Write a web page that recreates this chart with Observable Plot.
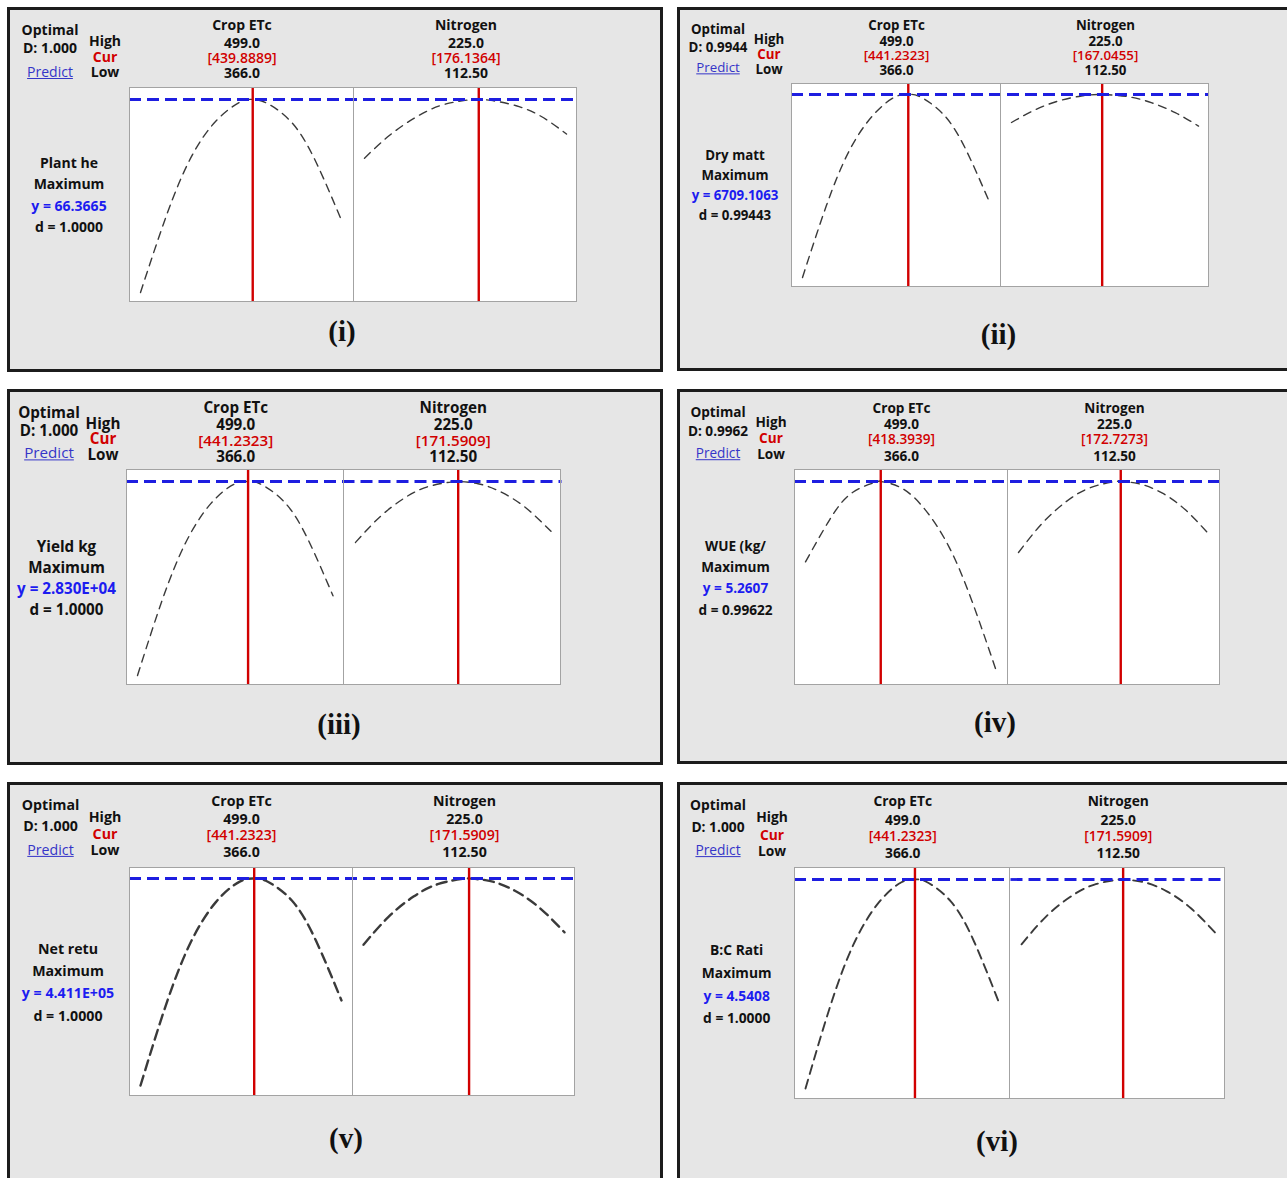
<!DOCTYPE html>
<html><head><meta charset="utf-8">
<script src="https://cdn.jsdelivr.net/npm/d3@7"></script>
<script src="https://cdn.jsdelivr.net/npm/@observablehq/plot@0.6"></script>
<style>
html,body{margin:0;padding:0;background:#fff;}
body{width:1287px;height:1178px;overflow:hidden;position:relative;font-family:"Open Sans","Noto Sans",sans-serif;color:#111;}
.panel{position:absolute;background:#e6e6e6;border:3px solid #1c1c1c;box-sizing:border-box;}
.t{position:absolute;white-space:nowrap;transform:translate(-50%,-50%);line-height:1;font-weight:700;}
.box{position:absolute;background:#fff;}
.boxframe{position:absolute;left:0;top:0;right:0;bottom:0;border:1px solid #a3a3a3;pointer-events:none;}
.divider{position:absolute;top:0;bottom:0;width:1px;background:#a3a3a3;}
.sub{position:absolute;top:0;}
.lab{position:absolute;transform:translate(-50%,-50%);font-family:"Liberation Serif","Times New Roman",serif;font-weight:700;line-height:1;white-space:nowrap;color:#111;}
</style></head><body>
<script>
// ---------------- data ----------------
const panelLabels = ["(i)", "(ii)", "(iii)", "(iv)", "(v)", "(vi)"];
const responseNames = ["Plant he", "Dry matt", "Yield kg", "WUE (kg/", "Net retu", "B:C Rati"];
const goalText = "Maximum";
const optimalD = ["1.000", "0.9944", "1.000", "0.9962", "1.000", "1.000"];
const predictedY = ["66.3665", "6709.1063", "2.830E+04", "5.2607", "4.411E+05", "4.5408"];
const optimumY = [66.3665, 6709.1063, 28300, 5.2607, 441100, 4.5408];
const desirability = ["1.0000", "0.99443", "1.0000", "0.99622", "1.0000", "1.0000"];
const factorNames = ["Crop ETc", "Nitrogen"];
const factorHigh = ["499.0", "225.0"];
const factorLow = ["366.0", "112.50"];
const etcRange = [366, 499];
const nitrogenRange = [112.5, 225];
const curETc = [439.8889, 441.2323, 441.2323, 418.3939, 441.2323, 441.2323];
const curNitrogen = [176.1364, 167.0455, 171.5909, 172.7273, 171.5909, 171.5909];
const yLow = [52, 4800, 19000, 3.9, 250000, 2.9];

const etcX = [
  [366, 383, 399, 416, 432, 439.9, 449, 466, 482, 499],
  [366, 383, 399, 416, 432, 441.2, 449, 466, 482, 499],
  [366, 383, 399, 416, 432, 441.2, 449, 466, 482, 499],
  [366, 383, 399, 416, 418.4, 432, 449, 466, 482, 499],
  [366, 383, 399, 416, 432, 441.2, 449, 466, 482, 499],
  [366, 383, 399, 416, 432, 441.2, 449, 466, 482, 499]
];
const etcY = [
  [52.0, 57.7, 62.0, 64.8, 66.2, 66.37, 66.1, 64.6, 61.6, 57.2],
  [4800, 5550, 6115, 6490, 6685, 6709, 6690, 6505, 6140, 5585],
  [19000, 22650, 25400, 27250, 28180, 28300, 28200, 27310, 25520, 22820],
  [4.685, 4.99, 5.184, 5.259, 5.261, 5.219, 5.063, 4.791, 4.402, 3.9],
  [250000, 325000, 381500, 419500, 438500, 441100, 439000, 421000, 384000, 328500],
  [2.9, 3.546, 4.031, 4.355, 4.519, 4.541, 4.523, 4.367, 4.05, 3.574]
];
const nitrogenX = [
  [112.5, 126.5, 140.5, 154.5, 168.5, 176.1, 183, 197, 211, 225],
  [112.5, 126.5, 140.5, 154.5, 167.0, 183, 197, 211, 225],
  [112.5, 126.5, 140.5, 154.5, 168.5, 171.6, 183, 197, 211, 225],
  [112.5, 126.5, 140.5, 154.5, 168.5, 172.7, 183, 197, 211, 225],
  [112.5, 126.5, 140.5, 154.5, 168.5, 171.6, 183, 197, 211, 225],
  [112.5, 126.5, 140.5, 154.5, 168.5, 171.6, 183, 197, 211, 225]
];
const nitrogenY = [
  [62.0, 63.7, 65.0, 65.9, 66.3, 66.37, 66.3, 65.9, 65.1, 63.8],
  [6417, 6548, 6640, 6694, 6709, 6685, 6622, 6520, 6380],
  [25380, 26600, 27500, 28060, 28290, 28300, 28195, 27765, 27005, 25910],
  [4.752, 4.962, 5.116, 5.215, 5.259, 5.261, 5.246, 5.179, 5.056, 4.878],
  [380000, 405700, 424400, 436100, 441000, 441100, 438900, 430000, 414100, 391400],
  [4.032, 4.246, 4.401, 4.499, 4.54, 4.541, 4.522, 4.448, 4.315, 4.125]
];

// ---------------- layout (positions / styles) ----------------
const layout = [
  {panel:[7,7,656,365], box:[129,87,448,215], inset:[12,10], fs:14, optX:50, optY:[30,48.3,71.7], hclX:105, hclY:[40.8,57.2,71.7], headY:[25.3,42.8,57.5,73.3], leftX:69, leftY:[163.3,184,206.3,227], lab:[342,330.8], cw:1.4, cd:"8,6"},
  {panel:[677,7,660,364], box:[791,83,418,204], inset:[11,10], fs:13.3, optX:718, optY:[29.5,48.3,68.3], hclX:769, hclY:[39.5,55,70], headY:[26,41.7,55.7,70.7], leftX:735, leftY:[155.7,175.7,196,216], lab:[998.5,334], cw:1.4, cd:"8,6"},
  {panel:[7,389,656,376], box:[126,469,435,216], inset:[12,10], fs:15.2, optX:49, optY:[412.5,431,453], hclX:103, hclY:[423.5,439,455], headY:[408.3,425,440.8,457], leftX:66.5, leftY:[546.7,568,589,610], lab:[339,724], cw:1.4, cd:"8,6"},
  {panel:[677,389,660,375], box:[794,469,426,216], inset:[12,14], fs:13.6, optX:718, optY:[411.5,431,453], hclX:771, hclY:[422,438,454], headY:[408,424.3,439,455.7], leftX:735.5, leftY:[545.7,566.7,587.7,610], lab:[995,722.3], cw:1.4, cd:"8,6"},
  {panel:[7,782,656,420], box:[129,867,446,229], inset:[11,11], fs:14.2, optX:50.5, optY:[805.2,825.8,849.7], hclX:105, hclY:[817.2,834.3,849.7], headY:[801.3,819.3,835,852.2], leftX:68, leftY:[948.7,970.7,993.3,1016], lab:[346,1138], cw:2.4, cd:"10,6"},
  {panel:[677,782,660,420], box:[794,867,431,232], inset:[12,11], fs:13.8, optX:718, optY:[805.3,826.7,850.3], hclX:772, hclY:[817.3,834.7,850.7], headY:[801.3,819.7,835.7,853], leftX:736.7, leftY:[949.7,973,995.7,1018.3], lab:[997,1141.3], cw:1.9, cd:"9,6"}
];
const RED = "#d10000", BLUE_TXT = "#1c1cf0", BLUE_LINE = "#1e1ee0", LINK = "#3535c8";

function el(cls, parent) { const d = document.createElement("div"); d.className = cls; (parent || document.body).appendChild(d); return d; }
function txt(x, y, s, fs, st) {
  const d = el("t"); d.textContent = s;
  d.style.left = x + "px"; d.style.top = y + "px"; d.style.fontSize = fs + "px";
  if (st) Object.assign(d.style, st);
  return d;
}

function subplot(p, k, w, h) {
  const L = layout[p];
  const xs = k === 0 ? etcX[p] : nitrogenX[p];
  const ys = k === 0 ? etcY[p] : nitrogenY[p];
  const data = xs.map((x, i) => ({x, y: ys[i]}));
  const cur = k === 0 ? curETc[p] : curNitrogen[p];
  return Plot.plot({
    width: w, height: h, margin: 0,
    x: {domain: k === 0 ? etcRange : nitrogenRange, insetLeft: 11, insetRight: 11, axis: null},
    y: {domain: [yLow[p], optimumY[p]], insetTop: L.inset[0], insetBottom: L.inset[1], axis: null},
    style: {background: "transparent", overflow: "visible"},
    marks: [
      Plot.line(data, {x: "x", y: "y", curve: "natural", stroke: "#3a3a3a", strokeWidth: L.cw, strokeDasharray: L.cd}),
      Plot.ruleX([cur], {stroke: RED, strokeWidth: 2.4}),
      Plot.ruleY([optimumY[p]], {stroke: BLUE_LINE, strokeWidth: 2.8, strokeDasharray: "12,6", strokeDashoffset: k === 0 ? 0 : (w % 18)})
    ]
  });
}

for (let p = 0; p < 6; p++) {
  const L = layout[p];
  const pn = el("panel");
  Object.assign(pn.style, {left: L.panel[0] + "px", top: L.panel[1] + "px", width: L.panel[2] + "px", height: L.panel[3] + "px"});
  const fs = L.fs;
  // left block
  txt(L.optX, L.optY[0], "Optimal", fs);
  txt(L.optX, L.optY[1], "D: " + optimalD[p], fs);
  txt(L.optX, L.optY[2], "Predict", fs, {fontWeight: 400, color: LINK, textDecoration: "underline"});
  txt(L.hclX, L.hclY[0], "High", fs);
  txt(L.hclX, L.hclY[1], "Cur", fs, {color: RED});
  txt(L.hclX, L.hclY[2], "Low", fs);
  // response block
  txt(L.leftX, L.leftY[0], responseNames[p], fs);
  txt(L.leftX, L.leftY[1], goalText, fs);
  txt(L.leftX, L.leftY[2], "y = " + predictedY[p], fs, {color: BLUE_TXT});
  txt(L.leftX, L.leftY[3], "d = " + desirability[p], fs);
  // plots
  const [bx, by, bw, bh] = L.box;
  const w = bw / 2;
  const box = el("box");
  Object.assign(box.style, {left: bx + "px", top: by + "px", width: bw + "px", height: bh + "px"});
  const curs = [curETc[p], curNitrogen[p]];
  for (let k = 0; k < 2; k++) {
    const s = el("sub", box);
    s.style.left = (k * w) + "px"; s.style.width = w + "px"; s.style.height = bh + "px";
    s.appendChild(subplot(p, k, w, bh));
    const cx = bx + k * w + w / 2 + 1;
    txt(cx, L.headY[0], factorNames[k], fs);
    txt(cx, L.headY[1], factorHigh[k], fs);
    txt(cx, L.headY[2], "[" + curs[k].toFixed(4) + "]", fs, {color: RED, fontWeight: 600});
    txt(cx, L.headY[3], factorLow[k], fs);
  }
  const dv = el("divider", box); dv.style.left = (w - 0.5) + "px";
  el("boxframe", box);
  const lb = el("lab"); lb.textContent = panelLabels[p];
  Object.assign(lb.style, {left: L.lab[0] + "px", top: L.lab[1] + "px", fontSize: "29px"});
}
</script>
</body></html>
